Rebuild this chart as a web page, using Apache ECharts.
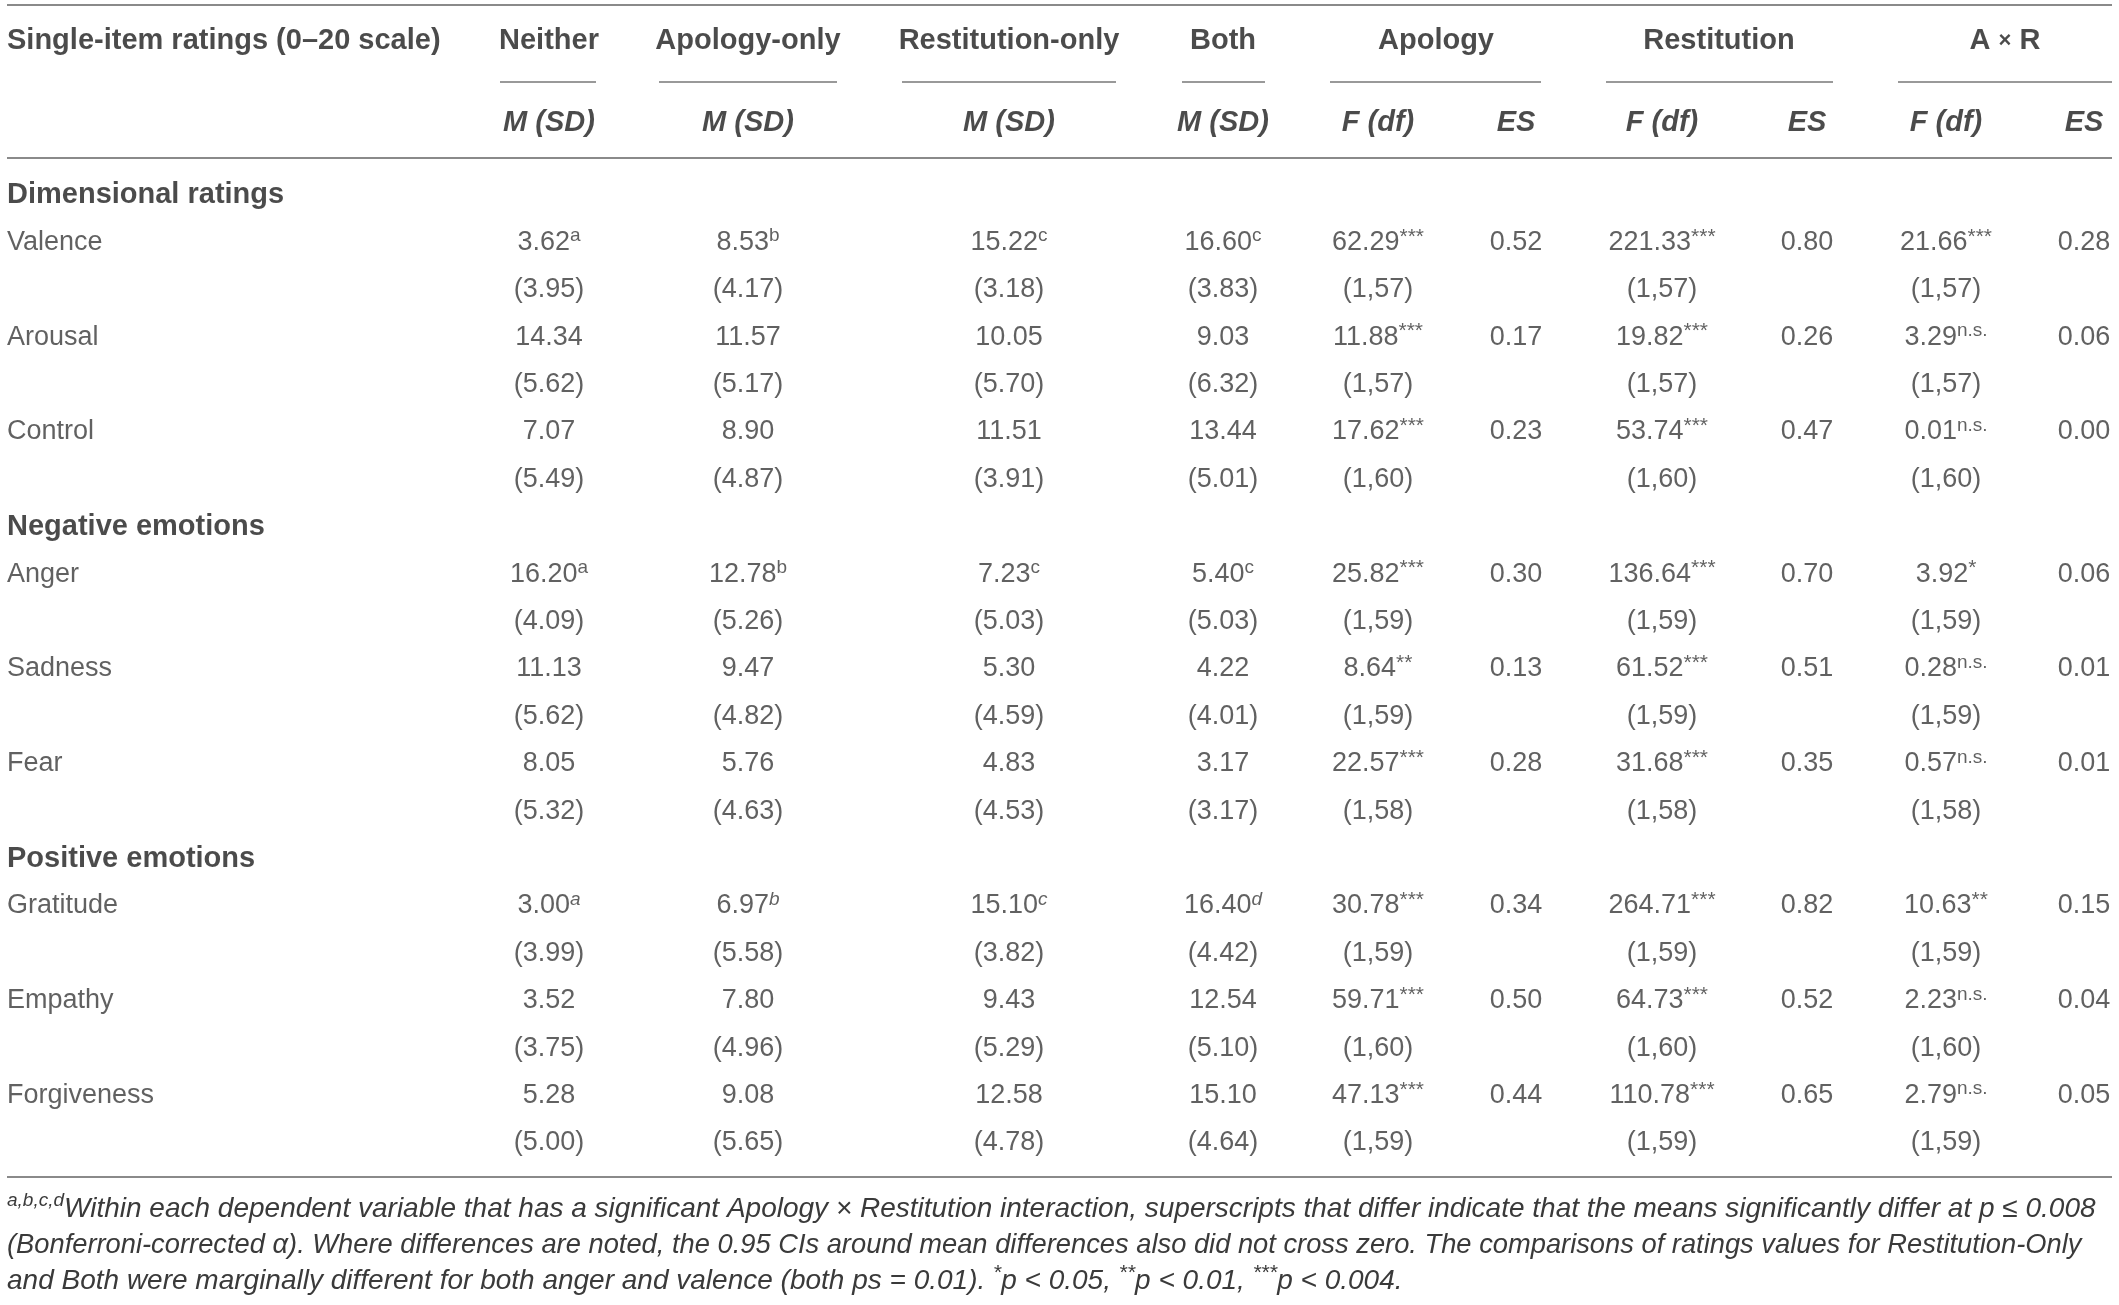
<!DOCTYPE html>
<html>
<head>
<meta charset="utf-8">
<script src="https://cdn.jsdelivr.net/npm/echarts@6/dist/echarts.min.js"></script>
<style>
  html, body { margin: 0; padding: 0; background: #fff; }
  #main { width: 2119px; height: 1305px; }
</style>
</head>
<body>
<div id="main"></div>
<script>
// ---- table contents ----
var stubHead = 'Single-item ratings (0–20 scale)';
var groupHeads = ['Neither', 'Apology-only', 'Restitution-only', 'Both', 'Apology', 'Restitution', 'A {x|×} R'];
var subHeads = ['M (SD)', 'M (SD)', 'M (SD)', 'M (SD)', 'F (df)', 'ES', 'F (df)', 'ES', 'F (df)', 'ES'];

var sections = ['Dimensional ratings', 'Negative emotions', 'Positive emotions'];
var measures = ['Valence', 'Arousal', 'Control', 'Anger', 'Sadness', 'Fear', 'Gratitude', 'Empathy', 'Forgiveness'];
var sectionOf = [0, 0, 0, 1, 1, 1, 2, 2, 2];

var neitherM = [3.62, 14.34, 7.07, 16.20, 11.13, 8.05, 3.00, 3.52, 5.28];
var neitherSD = [3.95, 5.62, 5.49, 4.09, 5.62, 5.32, 3.99, 3.75, 5.00];
var neitherSup = ['a', '', '', 'a', '', '', 'a', '', ''];

var apologyOnlyM = [8.53, 11.57, 8.90, 12.78, 9.47, 5.76, 6.97, 7.80, 9.08];
var apologyOnlySD = [4.17, 5.17, 4.87, 5.26, 4.82, 4.63, 5.58, 4.96, 5.65];
var apologyOnlySup = ['b', '', '', 'b', '', '', 'b', '', ''];

var restOnlyM = [15.22, 10.05, 11.51, 7.23, 5.30, 4.83, 15.10, 9.43, 12.58];
var restOnlySD = [3.18, 5.70, 3.91, 5.03, 4.59, 4.53, 3.82, 5.29, 4.78];
var restOnlySup = ['c', '', '', 'c', '', '', 'c', '', ''];

var bothM = [16.60, 9.03, 13.44, 5.40, 4.22, 3.17, 16.40, 12.54, 15.10];
var bothSD = [3.83, 6.32, 5.01, 5.03, 4.01, 3.17, 4.42, 5.10, 4.64];
var bothSup = ['c', '', '', 'c', '', '', 'd', '', ''];

var dfError = [57, 57, 60, 59, 59, 58, 59, 60, 59];

var apologyF = [62.29, 11.88, 17.62, 25.82, 8.64, 22.57, 30.78, 59.71, 47.13];
var apologySig = ['***', '***', '***', '***', '**', '***', '***', '***', '***'];
var apologyES = [0.52, 0.17, 0.23, 0.30, 0.13, 0.28, 0.34, 0.50, 0.44];

var restitutionF = [221.33, 19.82, 53.74, 136.64, 61.52, 31.68, 264.71, 64.73, 110.78];
var restitutionSig = ['***', '***', '***', '***', '***', '***', '***', '***', '***'];
var restitutionES = [0.80, 0.26, 0.47, 0.70, 0.51, 0.35, 0.82, 0.52, 0.65];

var axrF = [21.66, 3.29, 0.01, 3.92, 0.28, 0.57, 10.63, 2.23, 2.79];
var axrSig = ['***', 'n.s.', 'n.s.', '*', 'n.s.', 'n.s.', '**', 'n.s.', 'n.s.'];
var axrES = [0.28, 0.06, 0.00, 0.06, 0.01, 0.01, 0.15, 0.04, 0.05];

var footnote = [
  '{fsup|a,b,c,d}Within each dependent variable that has a significant Apology × Restitution interaction, superscripts that differ indicate that the means significantly differ at p ≤ 0.008',
  '{l2|(Bonferroni-corrected α). Where differences are noted, the 0.95 CIs around mean differences also did not cross zero. The comparisons of ratings values for Restitution-Only}',
  'and Both were marginally different for both anger and valence (both ps = 0.01). {fstar|*}p < 0.05, {fstar|**}p < 0.01, {fstar|***}p < 0.004.'
];

// ---- layout ----
var W = 2119, H = 1305;
var headX = [549, 748, 1009, 1223, 1436, 1719, 2005];
var colX = [549, 748, 1009, 1223, 1378, 1516, 1662, 1807, 1946, 2084];
var spans = [[500, 596], [659, 837], [902, 1116], [1182, 1265], [1330, 1541], [1606, 1833], [1898, 2112]];
var leftX = 7;
var rowStep = 47.4;
var firstRowY = 195;
var FONT = 'Liberation Sans';
var ruleColor = '#8a8a8a';
var bodyColor = '#3a3a3a';
var headColor = '#1e1e1e';

// row keys for the body axis
var rowKeys = [];
sections.forEach(function (s, si) {
  rowKeys.push('sec' + si);
  measures.forEach(function (m, i) {
    if (sectionOf[i] === si) { rowKeys.push('m' + i); rowKeys.push('sd' + i); }
  });
});

function f2(v) { return v.toFixed(2); }
function sup(s, italic) { return s ? '{' + (italic ? 'supi' : 'sup') + '|' + s + '}' : ''; }
function sig(s) { return s ? (s.indexOf('*') >= 0 ? '{star|' + s + '}' : '{sup|' + s + '}') : ''; }

var richBody = {
  sup: { fontFamily: FONT, fontSize: 19, color: bodyColor, verticalAlign: 'top', lineHeight: 18 },
  supi: { fontFamily: FONT, fontSize: 19, fontStyle: 'italic', color: bodyColor, verticalAlign: 'top', lineHeight: 18 },
  star: { fontFamily: FONT, fontSize: 21, color: bodyColor, verticalAlign: 'top', lineHeight: 27 },
  b: { fontFamily: FONT, fontSize: 29, fontWeight: 'bold', color: headColor }
};

// body cells
var stubData = [];
sections.forEach(function (s, si) {
  stubData.push({ value: [leftX, 'sec' + si], text: '{b|' + s + '}' });
});
measures.forEach(function (m, i) {
  stubData.push({ value: [leftX, 'm' + i], text: m });
});

var meanCols = [
  [neitherM, neitherSD, neitherSup],
  [apologyOnlyM, apologyOnlySD, apologyOnlySup],
  [restOnlyM, restOnlySD, restOnlySup],
  [bothM, bothSD, bothSup]
];
var effectCols = [
  [apologyF, apologySig, apologyES],
  [restitutionF, restitutionSig, restitutionES],
  [axrF, axrSig, axrES]
];

var cellData = [];
meanCols.forEach(function (c, ci) {
  measures.forEach(function (m, i) {
    cellData.push({ value: [colX[ci], 'm' + i], text: f2(c[0][i]) + sup(c[2][i], m === 'Gratitude') });
    cellData.push({ value: [colX[ci], 'sd' + i], text: '(' + f2(c[1][i]) + ')' });
  });
});
effectCols.forEach(function (c, ei) {
  var fx = colX[4 + ei * 2], ex = colX[5 + ei * 2];
  measures.forEach(function (m, i) {
    cellData.push({ value: [fx, 'm' + i], text: f2(c[0][i]) + sig(c[1][i]) });
    cellData.push({ value: [fx, 'sd' + i], text: '(1,' + dfError[i] + ')' });
    cellData.push({ value: [ex, 'm' + i], text: f2(c[2][i]) });
  });
});

// header cells
var headData = [{ value: [leftX, 'top'], text: stubHead }];
groupHeads.forEach(function (h, i) { headData.push({ value: [headX[i], 'top'], text: h }); });
var subData = [];
subHeads.forEach(function (h, i) { subData.push({ value: [colX[i], 'sub'], text: h }); });

var baseLabel = {
  show: true, position: 'inside', fontFamily: FONT, fontSize: 27, color: bodyColor,
  lineHeight: 32, formatter: function (p) { return p.data.text; }, rich: richBody
};

function textSeries(data, grid, label) {
  return {
    type: 'scatter', xAxisIndex: grid, yAxisIndex: grid, symbolSize: 0, silent: true,
    data: data, label: label, emphasis: { disabled: true }, animation: false
  };
}

// rules and spanner lines
var graphics = [];
[5, 158, 1177].forEach(function (y) {
  graphics.push({ type: 'line', shape: { x1: leftX, y1: y, x2: 2112, y2: y }, style: { stroke: ruleColor, lineWidth: 2 }, silent: true });
});
spans.forEach(function (s) {
  graphics.push({ type: 'line', shape: { x1: s[0], y1: 82, x2: s[1], y2: 82 }, style: { stroke: '#777', lineWidth: 1.6 }, silent: true });
});
graphics.push({
  type: 'text', left: leftX, top: 1191, silent: true,
  style: {
    text: footnote.join('\n'), fontFamily: FONT, fontSize: 28, fontStyle: 'italic', fill: bodyColor,
    lineHeight: 36,
    rich: {
      l2: { fontFamily: FONT, fontSize: 27.3, fontStyle: 'italic', fill: bodyColor, lineHeight: 36 },
      fsup: { fontFamily: FONT, fontSize: 19, fontStyle: 'italic', fill: bodyColor, verticalAlign: 'top', lineHeight: 20 },
      fstar: { fontFamily: FONT, fontSize: 21, fontStyle: 'italic', fill: bodyColor, verticalAlign: 'top', lineHeight: 28 }
    }
  }
});

var chart = echarts.init(document.getElementById('main'), null, { renderer: 'canvas' });
chart.setOption({
  backgroundColor: '#fff',
  animation: false,
  grid: [
    { left: 0, right: 0, top: 0, height: 164 },
    { left: 0, right: 0, top: firstRowY - rowStep / 2, height: rowStep * rowKeys.length }
  ],
  xAxis: [
    { type: 'value', gridIndex: 0, min: 0, max: W, show: false },
    { type: 'value', gridIndex: 1, min: 0, max: W, show: false }
  ],
  yAxis: [
    { type: 'category', gridIndex: 0, data: ['top', 'sub'], inverse: true, show: false },
    { type: 'category', gridIndex: 1, data: rowKeys, inverse: true, show: false }
  ],
  series: [
    textSeries(headData.slice(0, 1), 0, Object.assign({}, baseLabel, { align: 'left', fontSize: 29, fontWeight: 'bold', color: headColor })),
    textSeries(headData.slice(1), 0, Object.assign({}, baseLabel, {
      fontSize: 29, fontWeight: 'bold', color: headColor,
      rich: { x: { fontFamily: FONT, fontSize: 22, color: headColor } }
    })),
    textSeries(subData, 0, Object.assign({}, baseLabel, { fontSize: 29, fontWeight: 'bold', fontStyle: 'italic', color: headColor })),
    textSeries(stubData, 1, Object.assign({}, baseLabel, { align: 'left' })),
    textSeries(cellData, 1, baseLabel)
  ],
  graphic: graphics
});
</script>
</body>
</html>
